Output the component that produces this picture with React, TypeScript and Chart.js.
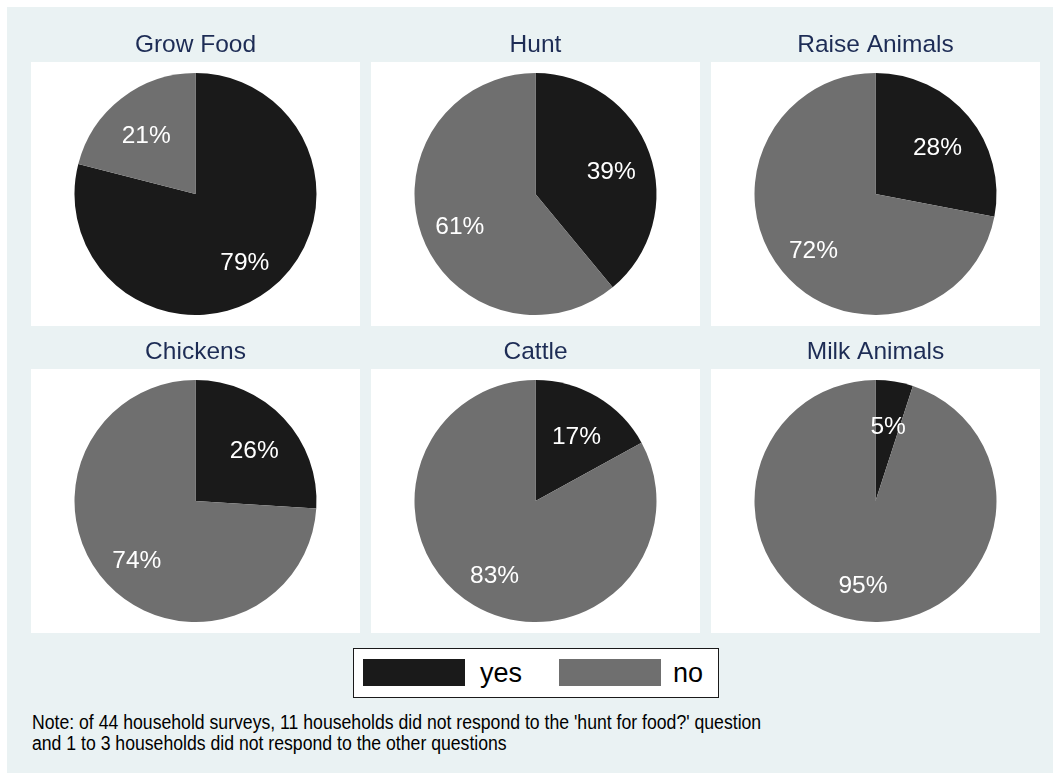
import React, { useEffect, useRef } from 'react';
import { Chart, registerables } from 'chart.js';

Chart.register(...registerables);

// Survey answers, in percent of responding households
const categories = ['yes', 'no'];
const panelTitles = ['Grow Food', 'Hunt', 'Raise Animals', 'Chickens', 'Cattle', 'Milk Animals'];
const yesShares = [79, 39, 28, 26, 17, 5];
const noShares = [21, 61, 72, 74, 83, 95];
const noteLines = [
  "Note: of 44 household surveys, 11 households did not respond to the 'hunt for food?' question",
  'and 1 to 3 households did not respond to the other questions',
];

const SLICE_COLORS = ['#1a1a1a', '#6f6f6f'];
const PAGE_BG = '#eaf2f3';
const TITLE_COLOR = '#1d2c55';
const FONT = '"Liberation Sans", Arial, Helvetica, sans-serif';
const LABEL_SIZE = 24.5;

// panel geometry (page pixels)
const COLUMN_LEFT = [31, 371, 711];
const ROW_PANEL_TOP = [62, 369];
const PANEL_W = 329;
const PANEL_H = 264;
const TITLE_BAND = 34;
const INSET = 11;
const ORIGIN = 7;

// white plot region behind each pie
const panelBackground = {
  id: 'panelBackground',
  beforeDraw(chart: any) {
    const { ctx, chartArea, width } = chart;
    ctx.save();
    ctx.fillStyle = '#ffffff';
    const top = chartArea.top - INSET;
    ctx.fillRect(0, top, width, chartArea.bottom + INSET - top);
    ctx.restore();
  },
};

// percentage text inside each slice
const sliceLabels = {
  id: 'sliceLabels',
  afterDatasetsDraw(chart: any) {
    const { ctx } = chart;
    const meta = chart.getDatasetMeta(0);
    const values = chart.data.datasets[0].data as number[];
    ctx.save();
    ctx.fillStyle = '#ffffff';
    ctx.font = `${LABEL_SIZE}px ${FONT}`;
    ctx.textAlign = 'center';
    ctx.textBaseline = 'alphabetic';
    const baselineDrop = LABEL_SIZE * 0.358 + 3.5;
    meta.data.forEach((arc: any, i: number) => {
      const { x, y, startAngle, endAngle, outerRadius } = arc.getProps(
        ['x', 'y', 'startAngle', 'endAngle', 'outerRadius'],
        true
      );
      const mid = (startAngle + endAngle) / 2;
      const r = outerRadius * 0.665;
      ctx.fillText(`${values[i]}%`, x + Math.cos(mid) * r, y + Math.sin(mid) * r + baselineDrop);
    });
    ctx.restore();
  },
};

function PiePanel({ index }: { index: number }) {
  const ref = useRef<HTMLCanvasElement | null>(null);
  const col = index % 3;
  const row = Math.floor(index / 3);
  const left = COLUMN_LEFT[col] - ORIGIN;
  const top = ROW_PANEL_TOP[row] - TITLE_BAND - ORIGIN;

  useEffect(() => {
    if (!ref.current) return;
    const chart = new Chart(ref.current, {
      type: 'pie',
      data: {
        labels: categories,
        datasets: [
          {
            data: [yesShares[index], noShares[index]],
            backgroundColor: SLICE_COLORS,
            borderWidth: 0,
          },
        ],
      },
      options: {
        responsive: false,
        animation: false,
        layout: { padding: { left: INSET, right: INSET, bottom: INSET, top: 0 } },
        plugins: {
          legend: { display: false },
          tooltip: { enabled: false },
          title: {
            display: true,
            text: panelTitles[index],
            color: TITLE_COLOR,
            font: { family: FONT, size: 24.5, weight: 'normal', lineHeight: 1.2 },
            padding: { top: 2.8, bottom: 1.8 + INSET },
          },
        },
      },
      plugins: [panelBackground, sliceLabels],
    });
    return () => chart.destroy();
  }, [index]);

  return (
    <canvas
      ref={ref}
      width={PANEL_W}
      height={PANEL_H + TITLE_BAND}
      style={{ position: 'absolute', left, top, width: PANEL_W, height: PANEL_H + TITLE_BAND }}
    />
  );
}

function Legend() {
  const textStyle: React.CSSProperties = {
    position: 'absolute',
    top: 11,
    fontSize: 27,
    lineHeight: '27px',
    fontFamily: FONT,
    color: '#000',
    whiteSpace: 'nowrap',
  };
  return (
    <div
      style={{
        position: 'absolute',
        left: 353 - ORIGIN,
        top: 648 - ORIGIN,
        width: 366,
        height: 50,
        boxSizing: 'border-box',
        border: '1px solid #1a1a1a',
        background: '#ffffff',
      }}
    >
      <div style={{ position: 'absolute', left: 9, top: 10, width: 102, height: 27, background: SLICE_COLORS[0] }} />
      <div style={{ ...textStyle, left: 126 }}>{categories[0]}</div>
      <div style={{ position: 'absolute', left: 205, top: 10, width: 102, height: 27, background: SLICE_COLORS[1] }} />
      <div style={{ ...textStyle, left: 319 }}>{categories[1]}</div>
    </div>
  );
}

export default function App() {
  return (
    <div
      style={{
        position: 'absolute',
        left: ORIGIN,
        top: ORIGIN,
        width: 1053 - ORIGIN,
        height: 773 - ORIGIN,
        background: PAGE_BG,
        overflow: 'hidden',
      }}
    >
      {panelTitles.map((_, i) => (
        <PiePanel key={i} index={i} />
      ))}
      <Legend />
      <div
        style={{
          position: 'absolute',
          left: 31.5 - ORIGIN,
          top: 711.6 - ORIGIN,
          fontFamily: FONT,
          fontSize: 20,
          lineHeight: '21px',
          color: '#000',
          whiteSpace: 'nowrap',
          transform: 'scaleX(0.882)',
          transformOrigin: 'left top',
        }}
      >
        {noteLines.map((line, i) => (
          <div key={i}>{line}</div>
        ))}
      </div>
    </div>
  );
}
